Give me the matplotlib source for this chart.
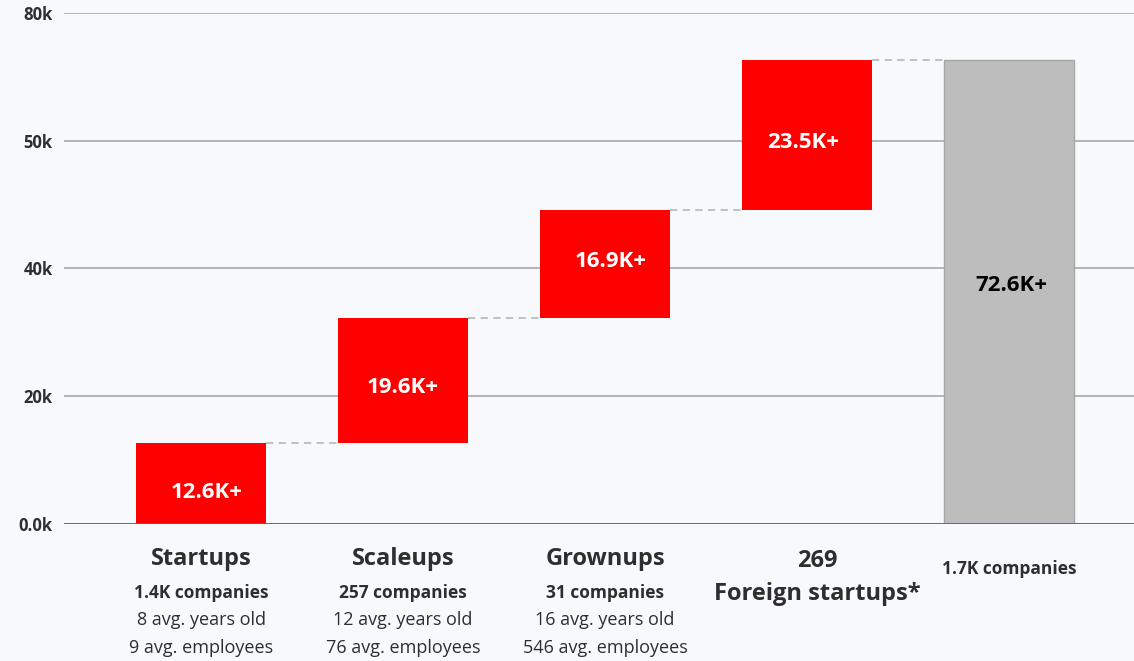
import matplotlib.pyplot as plt
import numpy as np

plt.rcParams["font.family"] = ["Open Sans", "DejaVu Sans"]

# data
steps = [12600, 19600, 16900, 23500]
step_labels = ["12.6K+", "19.6K+", "16.9K+", "23.5K+"]
total = 72600
total_label = "72.6K+"
cat_names = ["Startups", "Scaleups", "Grownups"]
cat_companies = ["1.4K companies", "257 companies", "31 companies"]
cat_years = ["8 avg. years old", "12 avg. years old", "16 avg. years old"]
cat_employees = ["9 avg. employees", "76 avg. employees", "546 avg. employees"]
foreign_count = "269"
foreign_name = "Foreign startups*"
total_companies = "1.7K companies"
ytick_vals = [0, 20000, 40000, 60000, 80000]
ytick_labels = ["0.0k", "20k", "40k", "50k", "80k"]

bg = "#f8f9fc"
red = "#ff0000"
grey = "#bdbdbd"
txt = "#2e2e2e"

fig = plt.figure(figsize=(11.34, 6.61), dpi=100, facecolor=bg)
ax = fig.add_axes([0.0564, 0.2073, 0.9436, 0.773])
ax.set_facecolor(bg)

w = 0.644
x = np.arange(5)
bottoms = np.concatenate([[0], np.cumsum(steps)[:-1]])
tops = np.cumsum(steps)

ax.bar(x[:4], steps, bottom=bottoms, width=w, color=red, zorder=3)
ax.bar(x[4], total, width=w, color=grey, edgecolor="#a6a6a6", linewidth=1, zorder=3)

# connectors between steps
for i in range(4):
    ax.plot([x[i] + w / 2, x[i + 1] - w / 2], [tops[i], tops[i]],
            ls=(0, (4, 3)), color="#bbbbbb", lw=1.3, zorder=2)

# value labels (small nudges in points, as in the original)
nudges = [(4, -6), (0, -5), (4, 2), (-3, -5)]
for i in range(4):
    ax.annotate(step_labels[i], (x[i], bottoms[i] + steps[i] / 2), xytext=nudges[i],
                textcoords="offset points", ha="center", va="center",
                color="white", fontsize=16, fontweight="bold", zorder=4)
ax.annotate(total_label, (x[4], total / 2), xytext=(2, 5), textcoords="offset points",
            ha="center", va="center", color="black", fontsize=16, fontweight="bold", zorder=4)

ax.set_xlim(-0.68, 4.62)
ax.set_ylim(0, 80000)
ax.set_yticks(ytick_vals)
ax.set_yticklabels(ytick_labels, fontsize=12, fontweight="bold", color=txt)
ax.tick_params(axis="y", length=0, pad=8)
ax.set_xticks([])
for s in ax.spines.values():
    s.set_visible(False)
ax.grid(axis="y", color="#afafaf", lw=1.3, zorder=0)
ax.axhline(0, color="#666666", lw=2, zorder=4)

# category labels below the axis (pixel rows of the reference -> axes fraction)
tr = ax.get_xaxis_transform()


def ypos(py):
    return (524 - py) / 511.0


for i in range(3):
    ax.text(x[i], ypos(559), cat_names[i], transform=tr, ha="center", va="center",
            fontsize=17, fontweight="bold", color=txt)
    ax.text(x[i], ypos(593), cat_companies[i], transform=tr, ha="center", va="center",
            fontsize=12.5, fontweight="bold", color=txt)
    ax.text(x[i], ypos(620), cat_years[i], transform=tr, ha="center", va="center",
            fontsize=13, color=txt)
    ax.text(x[i], ypos(648), cat_employees[i], transform=tr, ha="center", va="center",
            fontsize=13, color=txt)
ax.text(x[3] + 0.05, ypos(561), foreign_count, transform=tr, ha="center", va="center",
        fontsize=17, fontweight="bold", color=txt)
ax.text(x[3] + 0.05, ypos(594), foreign_name, transform=tr, ha="center", va="center",
        fontsize=17, fontweight="bold", color=txt)
ax.text(x[4], ypos(569), total_companies, transform=tr, ha="center", va="center",
        fontsize=12.5, fontweight="bold", color=txt)

fig.savefig("out.png", dpi=100, facecolor=bg)
